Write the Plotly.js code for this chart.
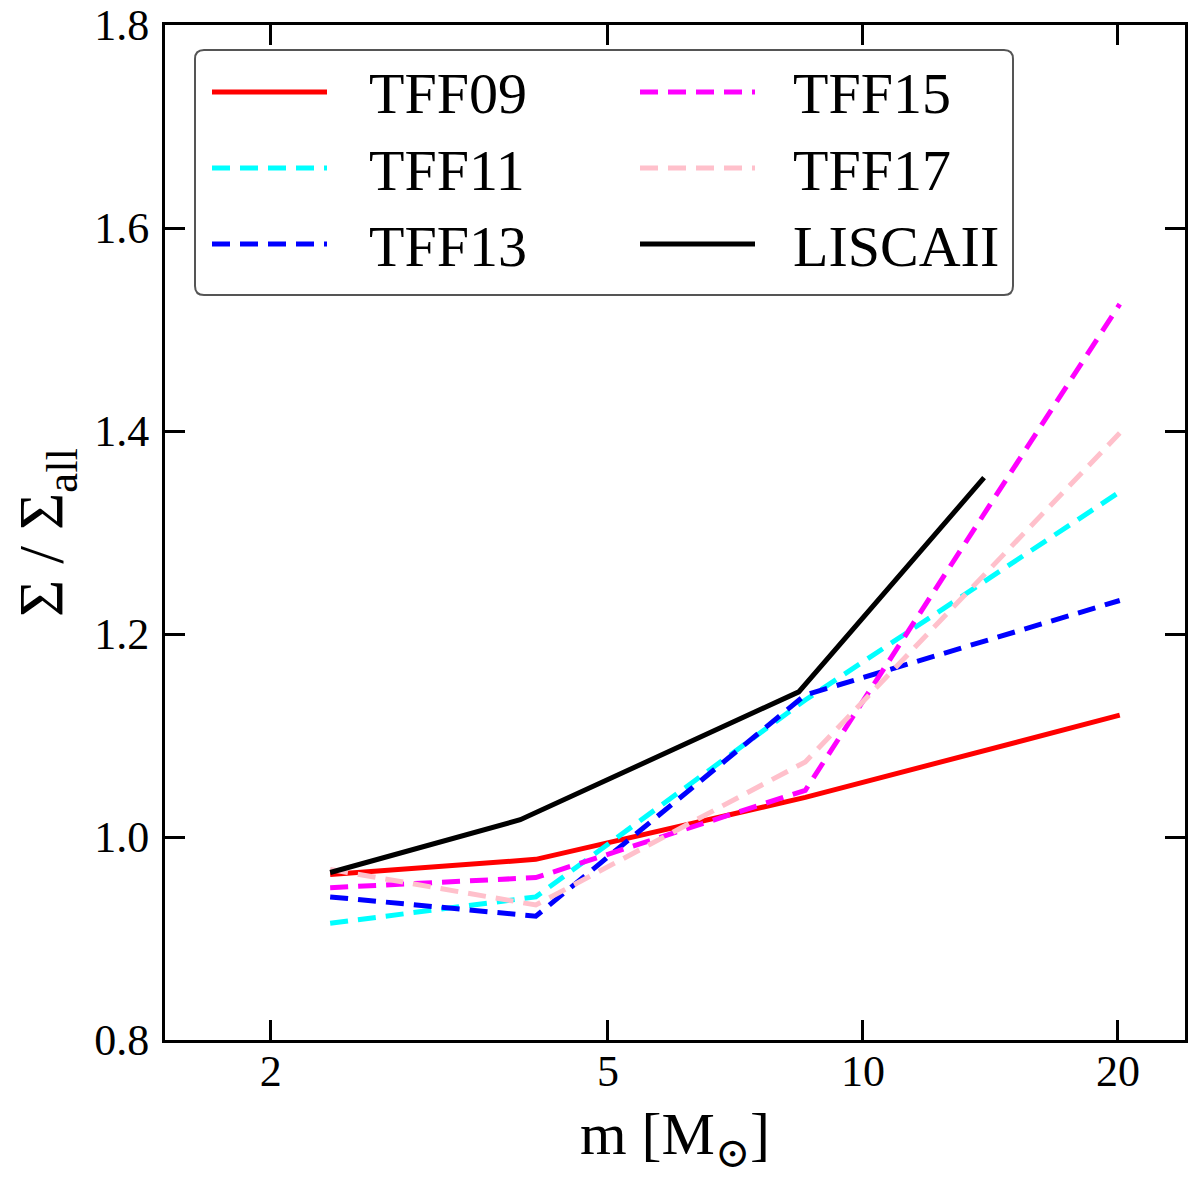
<!DOCTYPE html>
<html>
<head>
<meta charset="utf-8">
<script src="https://cdn.plot.ly/plotly-3.0.1.min.js"></script>
<style>
  body { margin: 0; background: #fff; }
  #chart { width: 1200px; height: 1186px; }
</style>
</head>
<body>
<div id="chart"></div>
<script>
// mass bins (M_sun)
var masses = [2.35, 4.11, 8.55, 20.1];
var massesLisca = [2.35, 3.94, 8.4, 13.9];

var tff09 = [0.963, 0.978, 1.039, 1.120];
var tff11 = [0.915, 0.941, 1.135, 1.340];
var tff13 = [0.941, 0.922, 1.140, 1.233];
var tff15 = [0.950, 0.960, 1.046, 1.525];
var tff17 = [0.968, 0.933, 1.074, 1.398];
var liscaii = [0.965, 1.017, 1.143, 1.354];

var names = ['TFF09', 'TFF11', 'TFF13', 'TFF15', 'TFF17', 'LISCAII'];
var colors = ['#ff0000', '#00ffff', '#0000ff', '#ff00ff', '#ffc0cb', '#000000'];

var xTicks = [2, 5, 10, 20];
var xTickText = ['2', '5', '10', '20'];

var serif = '"Liberation Serif", "DejaVu Serif", serif';
var dashed = '18px,10px';
var dashes = ['solid', dashed, dashed, dashed, dashed, 'solid'];

var W = 1200, H = 1186;
var M = {l: 165, r: 15, t: 25, b: 146};

function makeTrace(x, y, i) {
    return {
        x: x,
        y: y,
        name: names[i],
        mode: 'lines',
        type: 'scatter',
        showlegend: false,
        line: {color: colors[i], width: 5, dash: dashes[i]}
    };
}

var data = [
    makeTrace(masses, tff09, 0),
    makeTrace(masses, tff11, 1),
    makeTrace(masses, tff13, 2),
    makeTrace(masses, tff15, 3),
    makeTrace(masses, tff17, 4),
    makeTrace(massesLisca, liscaii, 5)
];

// pixel -> paper helpers for the hand made two column legend
var plotW = W - M.l - M.r, plotH = H - M.t - M.b;
function px(p) { return (p - M.l) / plotW; }
function py(p) { return (H - M.b - p) / plotH; }

var shapes = [];
var annotations = [];

// rounded legend frame
var bx0 = px(195), bx1 = px(1013), by0 = py(295), by1 = py(50);
var rx = 9 / plotW, ry = 9 / plotH;
shapes.push({
    type: 'path', xref: 'paper', yref: 'paper', layer: 'above',
    path: 'M' + (bx0 + rx) + ',' + by1 +
          ' L' + (bx1 - rx) + ',' + by1 + ' Q' + bx1 + ',' + by1 + ' ' + bx1 + ',' + (by1 - ry) +
          ' L' + bx1 + ',' + (by0 + ry) + ' Q' + bx1 + ',' + by0 + ' ' + (bx1 - rx) + ',' + by0 +
          ' L' + (bx0 + rx) + ',' + by0 + ' Q' + bx0 + ',' + by0 + ' ' + bx0 + ',' + (by0 + ry) +
          ' L' + bx0 + ',' + (by1 - ry) + ' Q' + bx0 + ',' + by1 + ' ' + (bx0 + rx) + ',' + by1 + ' Z',
    fillcolor: '#fff',
    line: {color: '#555', width: 2}
});

var colLine = [212, 640], colText = [367, 791], rowY = [92, 168, 244];
names.forEach(function (n, i) {
    var c = i < 3 ? 0 : 1, r = i % 3;
    shapes.push({
        type: 'line', xref: 'paper', yref: 'paper', layer: 'above',
        x0: px(colLine[c]), x1: px(colLine[c] + 115), y0: py(rowY[r]), y1: py(rowY[r]),
        line: {color: colors[i], width: 5, dash: dashes[i]}
    });
    annotations.push({
        text: n, xref: 'paper', yref: 'paper', showarrow: false,
        x: px(colText[c]), y: py(rowY[r] + 2), xanchor: 'left', yanchor: 'middle',
        font: {family: serif, size: 58, color: '#000'}
    });
});

var axisCommon = {
    showline: true,
    linecolor: '#000',
    linewidth: 3,
    mirror: 'ticks',
    ticks: 'inside',
    ticklen: 20,
    tickwidth: 3,
    tickcolor: '#000',
    showgrid: false,
    zeroline: false,
    tickfont: {family: serif, size: 44, color: '#000'}
};

var layout = {
    width: W,
    height: H,
    margin: M,
    paper_bgcolor: '#fff',
    plot_bgcolor: '#fff',
    font: {family: serif, color: '#000'},
    showlegend: false,
    shapes: shapes,
    annotations: annotations,
    xaxis: Object.assign({}, axisCommon, {
        type: 'log',
        range: [Math.log10(1.5), Math.log10(24)],
        tickvals: xTicks,
        ticktext: xTickText,
        ticklabelstandoff: -10,
        title: {text: 'm [M<sub>⊙</sub>]', font: {family: serif, size: 60}, standoff: 18}
    }),
    yaxis: Object.assign({}, axisCommon, {
        range: [0.8, 1.8],
        dtick: 0.2,
        tickformat: '.1f',
        ticklabelstandoff: 4,
        title: {text: 'Σ / Σ<sub>all</sub>', font: {family: serif, size: 64}, standoff: 10}
    })
};

Plotly.newPlot('chart', data, layout, {displayModeBar: false});
</script>
</body>
</html>
